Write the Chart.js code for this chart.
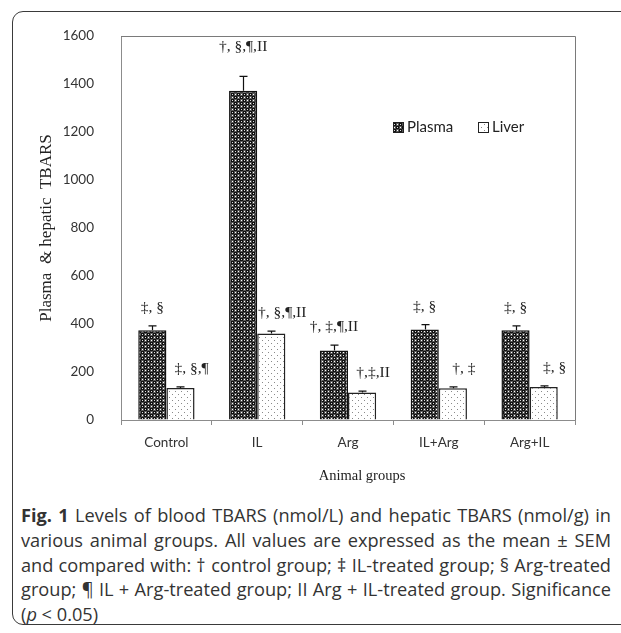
<!DOCTYPE html>
<html>
<head>
<meta charset="utf-8">
<script src="https://cdn.jsdelivr.net/npm/chart.js@4.4.1/dist/chart.umd.min.js"></script>
<style>
  html, body { margin: 0; padding: 0; background: #fff; }
  #page { position: relative; width: 621px; height: 633px; overflow: hidden; }
  #frame { position: absolute; left: 12px; top: 11px; width: 660px; height: 614px;
           border: 1.5px solid #3a3a3a; border-radius: 11px; box-sizing: border-box; }
  #wrap { position: absolute; left: 0; top: 0; width: 621px; height: 490px; }
  #caption { position: absolute; left: 21px; top: 503px; width: 590px;
             font-family: "Open Sans", sans-serif; font-size: 17px; line-height: 24.8px; color: #333; }
  #caption .j { text-align: justify; text-align-last: justify; white-space: nowrap; }
  #caption b { font-weight: 700; }
</style>
</head>
<body>
<div id="page">
  <div id="frame"></div>
  <div id="wrap"><canvas id="chart" width="621" height="490"></canvas></div>
  <div id="caption">
    <div class="j"><b>Fig. 1</b> Levels of blood TBARS (nmol/L) and hepatic TBARS (nmol/g) in</div>
    <div class="j">various animal groups. All values are expressed as the mean ± SEM</div>
    <div class="j">and compared with: † control group; ‡ IL-treated group; § Arg-treated</div>
    <div class="j">group; ¶ IL + Arg-treated group; II Arg + IL-treated group. Significance</div>
    <div>(<i>p</i> &lt; 0.05)</div>
  </div>
</div>
<script>
// Animal groups and TBARS means with SEM
const groups = ['Control', 'IL', 'Arg', 'IL+Arg', 'Arg+IL'];
const plasma = [374, 1372, 290, 377, 374];
const plasmaSem = [18, 60, 22, 20, 18];
const liver = [133, 360, 115, 132, 137];
const liverSem = [5, 10, 5, 6, 5];
// Significance symbols written above each bar
const plasmaMarks = ['‡, §', '†, §,¶,II', '†, ‡,¶,II', '‡, §', '‡, §'];
const liverMarks = ['‡, §,¶', '†, §,¶,II', '†,‡,II', '†, ‡', '‡, §'];
const seriesNames = ['Plasma', 'Liver'];

// Fit the caption: the widest line sets the font size, the others are justified
(function fitCaption() {
  const cap = document.getElementById('caption');
  const lines = Array.from(cap.querySelectorAll('.j'));
  let widest = 0;
  lines.forEach(d => {
    const s = document.createElement('span');
    s.innerHTML = d.innerHTML;
    s.style.whiteSpace = 'nowrap';
    s.style.position = 'absolute';
    s.style.visibility = 'hidden';
    cap.appendChild(s);
    widest = Math.max(widest, s.getBoundingClientRect().width);
    cap.removeChild(s);
  });
  if (widest > 0) cap.style.fontSize = (17 * 586 / widest).toFixed(2) + 'px';
})();

// Fill patterns: dark ball texture for plasma, light dots for liver
function makeBallPattern() {
  const c = document.createElement('canvas');
  c.width = 6; c.height = 6;
  const g = c.getContext('2d');
  g.fillStyle = '#fff'; g.fillRect(0, 0, 6, 6);
  g.fillStyle = '#111';
  [[1.5, 1.5], [4.5, 4.5], [-1.5, 4.5], [4.5, -1.5], [7.5, 1.5], [1.5, 7.5]].forEach(([x, y]) => {
    g.beginPath(); g.arc(x, y, 2.25, 0, Math.PI * 2); g.fill();
  });
  g.fillStyle = '#ddd';
  g.fillRect(1, 1, 1, 1); g.fillRect(4, 4, 1, 1);
  return g.createPattern(c, 'repeat');
}
function makeDotPattern() {
  const c = document.createElement('canvas');
  c.width = 6; c.height = 6;
  const g = c.getContext('2d');
  g.fillStyle = '#fff'; g.fillRect(0, 0, 6, 6);
  g.fillStyle = '#8a8a8a';
  g.fillRect(1, 1, 1, 1); g.fillRect(4, 4, 1, 1);
  return g.createPattern(c, 'repeat');
}
const ballFill = makeBallPattern();
const dotFill = makeDotPattern();

const sems = [plasmaSem, liverSem];
const marks = [plasmaMarks, liverMarks];

const decorations = {
  id: 'decorations',
  beforeDatasetsDraw(chart) {
    const { ctx, chartArea: a } = chart;
    ctx.save();
    ctx.strokeStyle = '#7a7a7a';
    ctx.lineWidth = 1;
    ctx.beginPath();
    ctx.moveTo(a.left, a.top + 0.5);
    ctx.lineTo(a.right + 0.5, a.top + 0.5);
    ctx.lineTo(a.right + 0.5, a.bottom);
    ctx.stroke();
    ctx.restore();
  },
  afterDatasetsDraw(chart) {
    const { ctx, chartArea: a } = chart;
    const yScale = chart.scales.y;
    ctx.save();
    chart.data.datasets.forEach((ds, i) => {
      const meta = chart.getDatasetMeta(i);
      meta.data.forEach((bar, j) => {
        const top = yScale.getPixelForValue(ds.data[j]);
        const hi = yScale.getPixelForValue(ds.data[j] + sems[i][j]);
        const x = Math.round(bar.x) + 0.5;
        ctx.strokeStyle = '#111';
        ctx.lineWidth = 1.2;
        ctx.beginPath();
        ctx.moveTo(x, top);
        ctx.lineTo(x, hi);
        ctx.moveTo(x - 4, hi);
        ctx.lineTo(x + 4, hi);
        ctx.stroke();
        ctx.fillStyle = '#222';
        ctx.font = '15.5px "Liberation Serif"';
        ctx.textAlign = 'center';
        ctx.textBaseline = 'middle';
        const dx = i === 1 ? 11 : 0;
        const lift = (hi < a.top + 60) ? 29 : 18;
        ctx.fillText(marks[i][j], bar.x + dx, hi - lift);
      });
    });
    // legend inside the plot area
    ctx.font = '15px Lato';
    ctx.textAlign = 'left';
    ctx.textBaseline = 'middle';
    const ly = a.top + 91;
    const items = [[a.right - 182, ballFill], [a.right - 97, dotFill]];
    items.forEach(([lx, fill], k) => {
      ctx.fillStyle = fill;
      ctx.fillRect(lx, ly - 5, 10, 10);
      ctx.strokeStyle = '#222';
      ctx.lineWidth = 1;
      ctx.strokeRect(lx + 0.5, ly - 4.5, 10, 10);
      ctx.fillStyle = '#222';
      ctx.fillText(seriesNames[k], lx + 14, ly);
    });
    // horizontal axis title
    ctx.font = '14.5px "Liberation Serif"';
    ctx.textAlign = 'center';
    ctx.fillStyle = '#222';
    ctx.fillText('Animal groups', (a.left + a.right) / 2 + 14, a.bottom + 56);
    ctx.restore();
  }
};

new Chart(document.getElementById('chart'), {
  type: 'bar',
  data: {
    labels: groups,
    datasets: [
      { label: seriesNames[0], data: plasma, backgroundColor: ballFill, borderColor: '#111',
        borderWidth: 1.5, categoryPercentage: 0.62, barPercentage: 1 },
      { label: seriesNames[1], data: liver, backgroundColor: dotFill, borderColor: '#222',
        borderWidth: 1.5, categoryPercentage: 0.62, barPercentage: 1 }
    ]
  },
  options: {
    responsive: false,
    animation: false,
    devicePixelRatio: 1,
    layout: { padding: { left: 36, top: 36, right: 46, bottom: 0 } },
    plugins: { legend: { display: false }, tooltip: { enabled: false } },
    scales: {
      x: {
        grid: { display: true, drawOnChartArea: false, drawTicks: true, tickLength: 5, color: '#8c8c8c' },
        border: { display: true, color: '#8c8c8c', width: 1 },
        ticks: { color: '#333', font: { family: 'Lato', size: 13.5 }, padding: 10, autoSkip: false, maxRotation: 0 },
        afterFit(s) { s.height = 70; }
      },
      y: {
        min: 0, max: 1600,
        grid: { display: true, drawOnChartArea: false, drawTicks: false, color: '#8c8c8c' },
        border: { display: true, color: '#8c8c8c', width: 1 },
        ticks: { stepSize: 200, color: '#333', font: { family: 'Lato', size: 13.5 }, padding: 27,
                 callback: v => String(v) },
        title: { display: true, text: 'Plasma  & hepatic  TBARS', color: '#222',
                 font: { family: 'Liberation Serif', size: 17 }, padding: { top: 0, bottom: 0 } },
        afterFit(s) { s.width = 85; }
      }
    }
  },
  plugins: [decorations]
});
</script>
</body>
</html>
